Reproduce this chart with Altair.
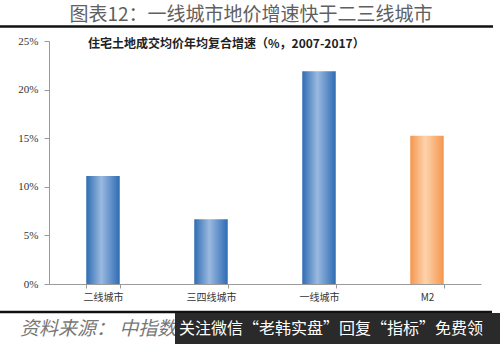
import altair as alt
import pandas as pd

categories = ["二线城市", "三四线城市", "一线城市", "M2"]
values = [11.1, 6.65, 21.9, 15.25]
groups = ["blue", "blue", "blue", "orange"]
y_ticks = [0, 5, 10, 15, 20, 25]

title_text = "图表12：一线城市地价增速快于二三线城市"
subtitle_text = "住宅土地成交均价年均复合增速（%，2007-2017）"
source_text = "资料来源： 中指数据"
overlay_text = "关注微信“老韩实盘”回复“指标”免费领"

df = pd.DataFrame({"cat": categories, "val": values, "grp": groups})

W, H = 432, 243
PL, PT = 49, 41

x_enc = alt.X("cat:N", sort=categories,
              scale=alt.Scale(domain=categories, paddingInner=0.69, paddingOuter=0.345),
              axis=alt.Axis(title=None, labelAngle=0, tickBand="extent", labelFont="Noto Sans CJK SC",
                            labelFontSize=10, labelColor="#333", domainColor="#9a9a9a",
                            tickColor="#9a9a9a", tickSize=4, labelPadding=4))
y_enc = alt.Y("val:Q", scale=alt.Scale(domain=[0, 25], nice=False),
              axis=alt.Axis(title=None, values=y_ticks, labelExpr="datum.value + '%'",
                            grid=False, labelFont="Liberation Serif", labelFontSize=11,
                            labelColor="#333", domainColor="#9a9a9a", tickColor="#9a9a9a",
                            tickSize=5, labelPadding=6))

blue_grad = alt.Gradient(gradient="linear", x1=0, x2=1, y1=0, y2=0,
                         stops=[alt.GradientStop(color="#2e6cb4", offset=0),
                                alt.GradientStop(color="#9ab9df", offset=0.45),
                                alt.GradientStop(color="#2e6cb4", offset=1)])
orange_grad = alt.Gradient(gradient="linear", x1=0, x2=1, y1=0, y2=0,
                           stops=[alt.GradientStop(color="#f5964e", offset=0),
                                  alt.GradientStop(color="#fdd3ac", offset=0.45),
                                  alt.GradientStop(color="#f5964e", offset=1)])

base = alt.Chart(df).encode(x=x_enc, y=y_enc)
blue = base.transform_filter("datum.grp == 'blue'").mark_bar(fill=blue_grad)
orange = base.transform_filter("datum.grp == 'orange'").mark_bar(fill=orange_grad)

one = pd.DataFrame({"t": [title_text], "s": [subtitle_text], "src": [source_text], "ov": [overlay_text]})
dec = alt.Chart(one)

title = dec.mark_text(font="Noto Sans CJK SC", fontSize=19, color="#606060", align="center",
                      baseline="middle").encode(text="t:N", x=alt.value(251 - PL), y=alt.value(15 - PT))
rule_top = dec.mark_rule(color="#111111", strokeWidth=2.5).encode(
    x=alt.value(-PL), x2=alt.value(493 - PL), y=alt.value(26.5 - PT))
subtitle = dec.mark_text(font="Noto Sans CJK SC", fontSize=12, fontWeight="bold", color="#222222",
                         align="left", baseline="middle").encode(
    text="s:N", x=alt.value(88 - PL), y=alt.value(44 - PT))
rule_bot = dec.mark_rule(color="#111111", strokeWidth=2.5).encode(
    x=alt.value(-PL), x2=alt.value(492 - PL), y=alt.value(312 - PT))
source = dec.mark_text(font="Noto Sans CJK SC", fontSize=19, fontStyle="italic", color="#777777",
                       align="left", baseline="middle").encode(
    text="src:N", x=alt.value(20 - PL), y=alt.value(329 - PT))
box = dec.mark_rect(color="#2a2a2a").encode(
    x=alt.value(175 - PL), x2=alt.value(500 - PL), y=alt.value(313 - PT), y2=alt.value(344 - PT))
overlay = dec.mark_text(font="Noto Sans CJK SC", fontSize=16, color="#ffffff",
                        align="left", baseline="middle").encode(
    text="ov:N", x=alt.value(179 - PL), y=alt.value(329 - PT))

chart = alt.layer(blue, orange, title, rule_top, subtitle, rule_bot, source, box, overlay).properties(
    width=W, height=H,
    autosize=alt.AutoSizeParams(type="none"),
    padding={"left": PL, "top": PT, "right": 500 - PL - W, "bottom": 344 - PT - H},
    background="white",
).configure_view(stroke=None)

chart.save("out.html", embed_options={"renderer": "svg", "actions": False})
